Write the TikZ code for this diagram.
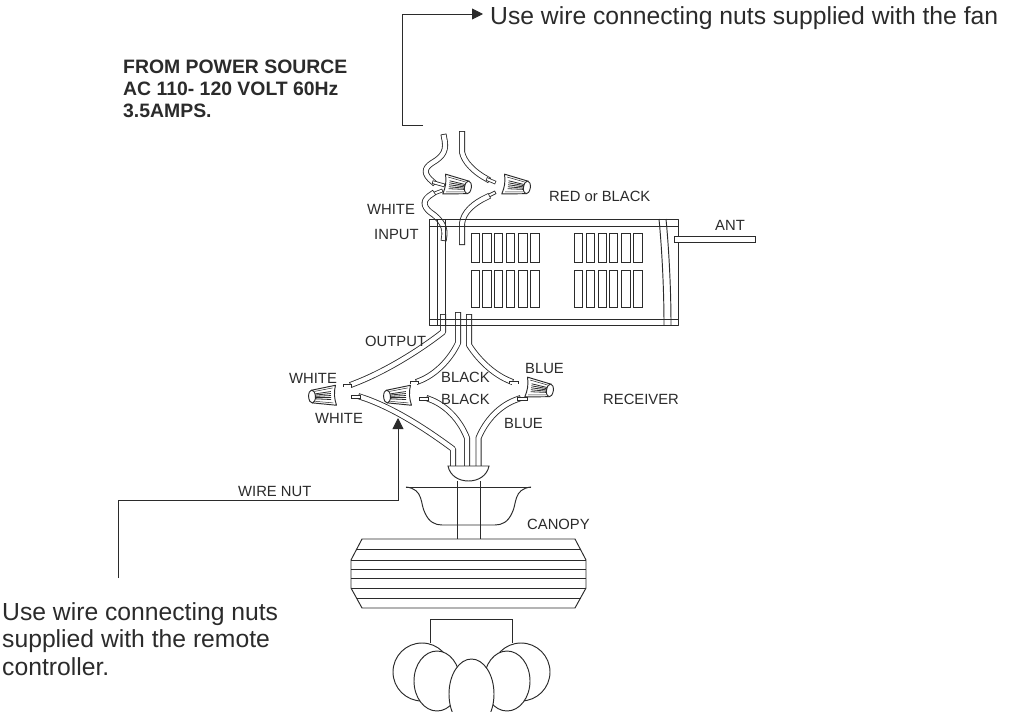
\documentclass[tikz,border=0pt]{standalone}
\usepackage{fontspec}
\setmainfont{Liberation Sans}
\usetikzlibrary{arrows.meta}
\definecolor{ink}{HTML}{2B2B2B}
\tikzset{
 lbl/.style={anchor=base west,inner sep=0pt,text=ink,font=\fontsize{14.8}{16}\selectfont},
 bigt/.style={anchor=base west,inner sep=0pt,align=left,text=ink,font=\fontsize{24.7}{27.3}\selectfont},
 boldt/.style={anchor=base west,inner sep=0pt,align=left,text=ink,font=\bfseries\fontsize{19.4}{22}\selectfont},
 ln/.style={draw=ink,line width=0.95pt},
 wire/.style={draw=ink,line width=0.85pt,double=white,double distance=4.3pt,line cap=rect,line join=round},
 strip/.style={draw=ink,line width=0.8pt,double=white,double distance=2pt,line cap=rect},
 arr/.style={ln,-{Triangle[length=11pt,width=11pt]}},
 nut/.pic={
  \path[ln,fill=white,line join=round] (-14,-10) -- (9,-6.5) -- (9,6.5) -- (-14,10) .. controls (-12,3) and (-12,-3) .. cycle;
  \draw[ln,fill=white] (10,0) ellipse [x radius=3.4,y radius=6.5];
  \foreach \a/\b in {-4/-2.5,-2/-1.3,0/0,2/1.3,4/2.5}{\draw[draw=ink,line width=0.8pt] (-9,\a) -- (6.5,\b);}
  \foreach \a/\b in {-7.5/-5,7.5/5}{\draw[draw=ink,line width=0.5pt] (-11,\a) -- (7,\b);}
 },
}
\begin{document}
\begin{tikzpicture}[x=1pt,y=-1pt]
\useasboundingbox (0,0) rectangle (1012,712);
\fill[white] (0,0) rectangle (1012,712);

% top wires
\draw[wire] (444,137) .. controls (447,150) and (444,156) .. (432,163) .. controls (424,168) and (423,174) .. (433,182);
\draw[strip] (434,182.5) -- (443,185);
\draw[wire] (462,134) -- (462,152) .. controls (464,162) and (474,172) .. (487,179);
\draw[strip] (488,179.5) -- (494,182);
\draw[strip] (441,191) -- (433,194);
\draw[wire] (432,194) .. controls (422,200) and (423,206) .. (430,212) .. controls (442,220) and (446,228) .. (444,238);
\draw[strip] (494,193) -- (488,196);
\draw[wire] (487,197) .. controls (474,203) and (463,212) .. (462,224) -- (462,242);

% output wires
\draw[wire] (443,317) -- (443,332) .. controls (420,350) and (385,372) .. (353,384);
\draw[strip] (345,385.5) -- (350,385.5);
\draw[wire] (458,315) -- (458,343) .. controls (450,360) and (435,375) .. (419,381);
\draw[strip] (412,382.5) -- (417,382.5);
\draw[wire] (469,317) -- (469,345) .. controls (480,362) and (495,375) .. (510,381);
\draw[strip] (511,382.5) -- (517,382.5);

% receiver wires
\draw[wire] (453,465) -- (453,449) .. controls (430,432) and (395,408) .. (361,397);
\draw[strip] (353,397) -- (359,397);
\draw[wire] (467,465) -- (467,438) .. controls (460,420) and (446,405) .. (429,399);
\draw[strip] (421,399) -- (427,399);
\draw[wire] (478.5,465) -- (478.5,438) .. controls (486,420) and (500,405) .. (518,399);
\draw[strip] (519,399) -- (526,399);

% receiver box
\path[ln,line join=round] (429,219) rectangle (678,325);
\draw[ln] (429,226) -- (678,226);
\draw[ln] (429,319) -- (678,319);
\draw[ln] (437,219) -- (437,325);
\draw[ln] (445,219) -- (445,325);
\draw[ln] (659,219) .. controls (662,250) and (664,290) .. (664,325);
\draw[ln] (666,219) .. controls (669,250) and (671,290) .. (671,325);
\foreach \xa/\xb in {471/479,482/491,494/502,506/514,518/527,530/539,574/582,586/594,598/606,609/617,621/630,633/642}{
  \draw[ln] (\xa,233) rectangle (\xb,262);
  \draw[ln] (\xa,270) rectangle (\xb,307);
}
\draw[ln,fill=white] (674,236) rectangle (755,242);

% wire nuts
\path (458,186) pic[rotate=-8] {nut};
\path (517,186) pic[rotate=-8] {nut};
\path (322,396) pic[rotate=183] {nut};
\path (397,396) pic[rotate=183] {nut};
\path (540,389) pic[rotate=-8] {nut};

% dome, pillar, canopy
\draw[ln,fill=white] (448,466) -- (489,466) .. controls (487,476) and (478,481) .. (468.5,481) .. controls (459,481) and (450,476) .. (448,466) -- cycle;
\draw[ln] (406,487) -- (531,487);
\draw[ln] (406,487) .. controls (424,489) and (420,504) .. (425,513) .. controls (429,522) and (435,525) .. (442,525) -- (495,525) .. controls (502,525) and (508,522) .. (512,513) .. controls (517,504) and (513,489) .. (531,487);
\draw[ln] (457,481) -- (457,539);
\draw[ln] (480,481) -- (480,539);

% fan body
\draw[ln,line join=round] (362,539) -- (575,539) -- (586,560) -- (586,588) -- (575,608) -- (362,608) -- (351,588) -- (351,560) -- cycle;
\draw[ln] (357,549) -- (581,549);
\draw[ln] (351,560) -- (586,560);
\draw[ln] (351,569) -- (586,569);
\draw[ln] (351,578) -- (586,578);
\draw[ln] (351,588) -- (586,588);
\draw[ln] (357,598) -- (581,598);

% bulb holder and bulbs
\draw[ln] (430,643) -- (430,619) -- (512,619) -- (512,643);
\begin{scope}
\clip (0,0) rectangle (1012,712);
\foreach \cx/\cy/\rx/\ry in {422/672/29/29, 521/672/29/29, 437/681/23/30, 507/681/23/30, 471.5/694/22.5/35}{
  \draw[ln,fill=white] (\cx,\cy) ellipse [x radius=\rx,y radius=\ry];
}
\end{scope}

% connectors
\coordinate (ta) at (423,125);
\coordinate (tb) at (402.5,125);
\coordinate (tc) at (402.5,14);
\node[bigt] (fan) at (490,24) {Use wire connecting nuts supplied with the fan};
\draw[arr] (ta) -- (tb) -- (tc) -- ([xshift=-7pt]tc -| fan.west);
\coordinate (ba) at (118,578);
\coordinate (bb) at (118,500);
\coordinate (bc) at (398,500);
\coordinate (bd) at (398,418);
\draw[arr] (ba) -- (bb) -- (bc) -- (bd);

% labels
\node[boldt] (src) at (123,117) {FROM POWER SOURCE\\AC 110- 120 VOLT 60Hz\\3.5AMPS.};
\node[bigt] (rem) at (2,675) {Use wire connecting nuts\\supplied with the remote\\controller.};
\node[lbl] (l1) at (367,214) {WHITE};
\node[lbl] (l2) at (374,239) {INPUT};
\node[lbl] (l3) at (549,201) {RED or BLACK};
\node[lbl] (l4) at (715,230) {ANT};
\node[lbl] (l5) at (365,346) {OUTPUT};
\node[lbl] (l6) at (289,383) {WHITE};
\node[lbl] (l7) at (441,382) {BLACK};
\node[lbl] (l8) at (525,373) {BLUE};
\node[lbl] (l9) at (441,404) {BLACK};
\node[lbl] (l10) at (315,423) {WHITE};
\node[lbl] (l11) at (504,428) {BLUE};
\node[lbl] (l12) at (603,404) {RECEIVER};
\node[lbl] (l13) at (238,496) {WIRE NUT};
\node[lbl] (l14) at (527,529) {CANOPY};
\end{tikzpicture}
\end{document}
